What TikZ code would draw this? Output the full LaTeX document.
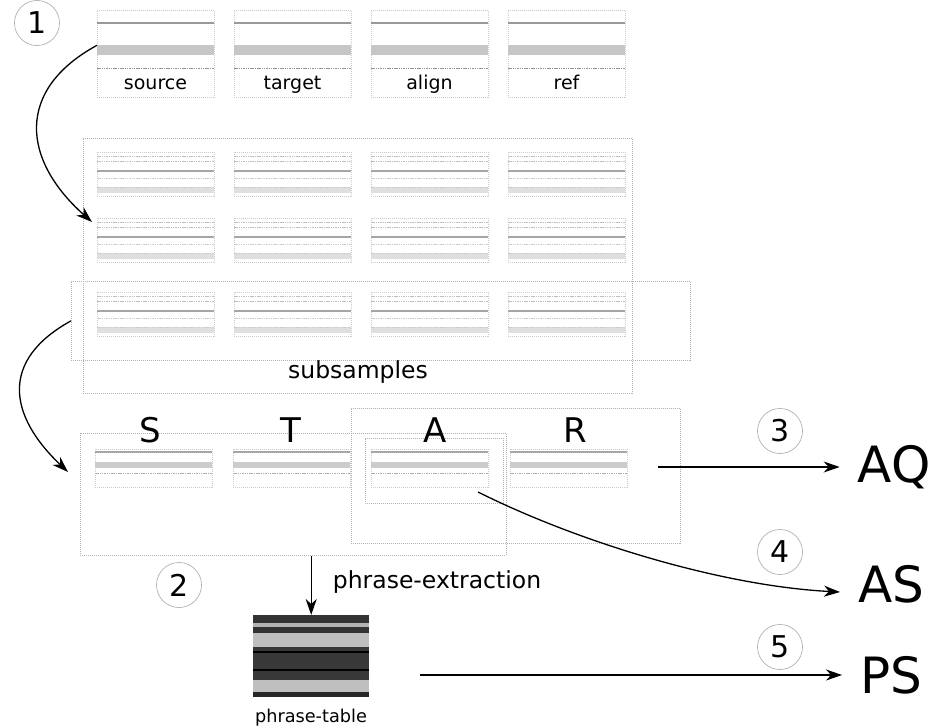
\documentclass[tikz,border=0pt]{standalone}
\usepackage{fontspec}
\setmainfont{DejaVu Sans}
\usetikzlibrary{arrows.meta,positioning}

\tikzset{
  frame/.style={draw=gray!60, dash pattern=on 1pt off 1pt, line width=0.7pt},
  cell/.style={draw=gray!40, dash pattern=on 1pt off 1pt, line width=0.6pt,
    minimum width=117pt, minimum height=#1, inner sep=0pt, anchor=north west},
  darkrule/.style={gray!80, line width=1.3pt},
  dotrule/.style={gray!85, line width=1pt, dash pattern=on 1.5pt off 0.8pt},
  faintrule/.style={gray!50, line width=0.8pt, dash pattern=on 1.5pt off 0.8pt},
  num/.style={circle, draw=gray!70, line width=0.6pt, minimum size=45pt,
    inner sep=0pt, font=\fontsize{30}{30}\selectfont},
  result/.style={inner sep=0pt, outer xsep=18pt, font=\fontsize{50}{50}\selectfont},
  flow/.style={-{Stealth[length=16pt,width=11pt,inset=5pt]}, line width=1.3pt},
}

\begin{document}
\begin{tikzpicture}[x=1pt,y=-1pt]
  \useasboundingbox (0,0) rectangle (935,728);

  % corpus files
  \node[num] (n1) at (37,23) {1};
  \foreach \x/\nm/\lab in {97/src/source,234/trg/target,371/aln/align,508/rf/ref} {
    \node[cell=87pt] (\nm) at (\x,10) {};
    \draw[darkrule] (\x,23) -- ++(117,0);
    \fill[gray!45] (\x,45) rectangle ++(117,10);
    \draw[dotrule] (\x,68) -- ++(117,0);
    \node[anchor=base, inner sep=0pt, font=\fontsize{19}{19}\selectfont] (\nm-lab) at (\x+58.5,89) {\lab};
  }

  % subsamples
  \node[frame, minimum width=549pt, minimum height=255pt, inner sep=0pt, anchor=north west] (subs) at (83,138) {};
  \node[frame, minimum width=619pt, minimum height=79pt, inner sep=0pt, anchor=north west] (sel) at (71,281) {};
  \node[font=\fontsize{23.5}{23.5}\selectfont] (subs-lab) at (358,372) {subsamples};
  \foreach \x [count=\c] in {97,234,371,508}
    \foreach \y [count=\r] in {152,218,292} {
      \node[cell=44pt] (ss-\r-\c) at (\x,\y) {};
      \draw[faintrule] (\x,\y+4) -- ++(117,0);
      \draw[faintrule] (\x,\y+9) -- ++(117,0);
      \draw[darkrule, gray!70] (\x,\y+19) -- ++(117,0);
      \draw[faintrule, gray!40] (\x,\y+26) -- ++(117,0);
      \fill[gray!25] (\x,\y+35) rectangle ++(117,6);
      \draw[faintrule, gray!40] (\x,\y+35) -- ++(117,0);
    }

  % one subsample
  \node[frame, minimum width=426pt, minimum height=122pt, inner sep=0pt, anchor=north west] (left) at (80,433) {};
  \node[frame, minimum width=329pt, minimum height=135pt, inner sep=0pt, anchor=north west] (right) at (351,408) {};
  \node[frame, minimum width=138pt, minimum height=65pt, inner sep=0pt, anchor=north west] (abox) at (365,438) {};
  \foreach \x/\nm/\lx in {95/S/150,233/T/291,371/A/435,510/R/575} {
    \node[cell=38pt] (star-\nm) at (\x,449) {};
    \draw[gray!70, line width=1.1pt] (\x,452) -- ++(117,0);
    \fill[gray!40] (\x,462) rectangle ++(117,6);
    \draw[faintrule, gray!65] (\x,473) -- ++(117,0);
    \node[font=\fontsize{34}{34}\selectfont] (lab-\nm) at (\lx,430) {\nm};
  }

  % phrase table
  \node[num] (n2) at (179,585) {2};
  \node[font=\fontsize{23.5}{23.5}\selectfont] (pe-lab) at (437,582) {phrase-extraction};
  \node[minimum width=116pt, minimum height=82pt, inner sep=0pt, anchor=north west] (ptab) at (253,615) {};
  \fill[black!80] (253,615) rectangle (369,623);
  \fill[gray!60] (253,623) rectangle (369,627);
  \fill[black!80] (253,627) rectangle (369,633);
  \fill[gray!50] (253,633) rectangle (369,647);
  \fill[black!78] (253,647) rectangle (369,680);
  \draw[black, line width=1.6pt] (253,652) -- (369,652);
  \draw[black, line width=1.6pt] (253,670) -- (369,670);
  \fill[gray!50] (253,680) rectangle (369,692);
  \fill[black!85] (253,692) rectangle (369,697);
  \node[font=\fontsize{17.7}{17.7}\selectfont] (pt-lab) at (311,718) {phrase-table};

  % results
  \node[num] (n3) at (780,431) {3};
  \node[num] (n4) at (780,552) {4};
  \node[num] (n5) at (780,647) {5};
  \node[result] (aq) at (894,467) {AQ};
  \node[result] (as) at (891,584) {AS};
  \node[result] (ps) at (891,675) {PS};

  \coordinate (star-in) at (68,472);
  \coordinate (aq-out) at (658,467);
  \coordinate (as-out) at (478,492);
  \coordinate (ps-out) at (420,675);

  \draw[flow] ([yshift=8.5pt]src.west) .. controls (15,90) and (22,160) .. ([xshift=-5pt,yshift=-4pt]ss-2-1.north west);
  \draw[flow] (sel.west) .. controls (0,360) and (8,415) .. (star-in);
  \draw[flow] (ptab.north |- left.south) -- (ptab.north);
  \draw[flow] (aq-out) -- (aq.west);
  \draw[flow] (as-out) .. controls (578,542) and (722,586) .. ([yshift=-8pt]as.west);
  \draw[flow] (ps-out) -- (ps.west);
\end{tikzpicture}
\end{document}
